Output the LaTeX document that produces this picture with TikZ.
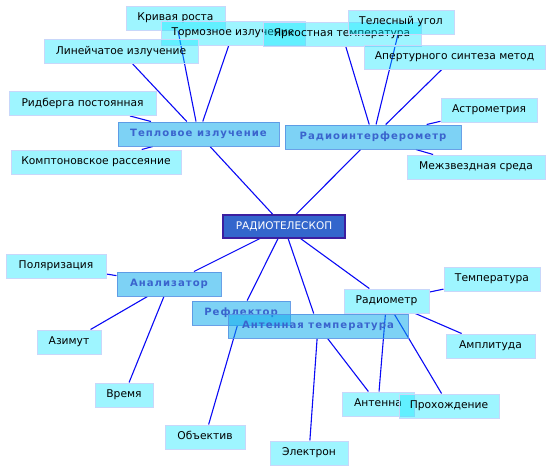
\documentclass[tikz,border=0pt]{standalone}
\usepackage{fontspec}
\setmainfont{DejaVu Sans}
\newfontfamily\catfont[LetterSpace=10]{DejaVu Sans}
\usetikzlibrary{backgrounds}
\definecolor{leaffill}{RGB}{0,230,255}
\definecolor{leafline}{RGB}{200,215,250}
\definecolor{catfill}{RGB}{10,170,236}
\definecolor{catline}{RGB}{90,150,228}
\definecolor{cattext}{RGB}{58,100,205}
\definecolor{topfill}{RGB}{51,102,204}
\definecolor{topline}{RGB}{60,30,160}
\definecolor{edgeblue}{RGB}{10,10,245}

\begin{document}
\begin{tikzpicture}[x=1pt,y=-1pt,
  leaf/.style={draw=leafline,line width=1pt,fill=leaffill,fill opacity=0.38,text opacity=1,
    minimum height=24pt,inner xsep=3pt,text depth=2.5pt,font=\fontsize{10.7}{12}\selectfont},
  cat/.style={draw=catline,line width=1pt,fill=catfill,fill opacity=0.53,draw opacity=0.9,text opacity=1,
    text=cattext,minimum height=24pt,inner xsep=3pt,font=\catfont\bfseries\fontsize{10.1}{12}\selectfont},
  hub/.style={draw=topline,line width=1.2pt,fill=topfill,text=white,
    minimum height=23pt,inner xsep=3pt,font=\fontsize{10.5}{12}\selectfont},
  link/.style={draw=edgeblue,line width=1.1pt}]
  \useasboundingbox (0,0) rectangle (552,472);

  % center
  \node[hub,minimum width=122pt] (tel) at (284,226.5) {РАДИОТЕЛЕСКОП};

  % Тепловое излучение
  \node[leaf,minimum width=99pt] (krivaya) at (175.5,18) {Кривая роста};
  \node[leaf,minimum width=144pt] (tormoz) at (233,33) {Тормозное излучение};
  \node[leaf,minimum width=154pt] (lineich) at (121,51.5) {Линейчатое излучение};
  \node[leaf,minimum width=147pt] (ridberg) at (82.5,103.5) {Ридберга постоянная};
  \node[leaf,minimum width=170pt] (kompton) at (96,162) {Комптоновское рассеяние};
  \node[cat,minimum width=161pt] (teplo) at (198.5,134) {Тепловое излучение};

  % Радиоинтерферометр
  \node[leaf,minimum width=158pt] (yarkost) at (342,34) {Яркостная температура};
  \node[leaf,minimum width=106pt] (telesn) at (401,22) {Телесный угол};
  \node[leaf,minimum width=181pt] (apert) at (454.5,57) {Апертурного синтеза метод};
  \node[leaf,minimum width=96pt] (astrom) at (489,110) {Астрометрия};
  \node[leaf,minimum width=138pt] (mezhzv) at (476,167) {Межзвездная среда};
  \node[cat,minimum width=176pt] (interf) at (373,137) {Радиоинтерферометр};

  % Анализатор
  \node[leaf,minimum width=100pt] (polyar) at (56,266) {Поляризация};
  \node[leaf,minimum width=64pt] (azimut) at (69,342) {Азимут};
  \node[leaf,minimum width=58pt] (vremya) at (124,395) {Время};
  \node[cat,minimum width=104pt] (analiz) at (169,284) {Анализатор};

  % Рефлектор, Антенная температура, Радиометр
  \node[leaf,minimum width=80pt] (obyekt) at (205,437) {Объектив};
  \node[leaf,minimum width=78pt] (elektron) at (309,453) {Электрон};
  \node[leaf,minimum width=85pt] (radiometr) at (386.5,301) {Радиометр};
  \node[leaf,minimum width=96pt] (temper) at (492,279) {Температура};
  \node[leaf,minimum width=89pt] (amplit) at (490.5,346) {Амплитуда};
  \node[leaf,minimum width=72pt] (antenna) at (378,404) {Антенна};
  \node[leaf,minimum width=100pt] (prohozh) at (449,406) {Прохождение};
  \node[cat,minimum width=98pt] (reflektor) at (241,313) {Рефлектор};
  \node[cat,minimum width=180pt] (antT) at (318,326) {Антенная температура};

  \begin{scope}[on background layer]
    \draw[link] (tel) -- (teplo) (tel) -- (interf) (tel) -- (analiz) (tel) -- (reflektor)
      (tel) -- (antT) (tel) -- (radiometr);
    \draw[link] (teplo) -- (krivaya) (teplo) -- (tormoz) (teplo) -- (lineich)
      (teplo) -- (ridberg) (teplo) -- (kompton);
    \draw[link] (interf) -- (yarkost) (interf) -- (telesn) (interf) -- (apert)
      (interf) -- (astrom) (interf) -- (mezhzv);
    \draw[link] (analiz) -- (polyar) (analiz) -- (azimut) (analiz) -- (vremya);
    \draw[link] (reflektor) -- (obyekt);
    \draw[link] (antT) -- (elektron) (antT) -- (antenna) (antT) -- (radiometr);
    \draw[link] (radiometr) -- (temper) (radiometr) -- (amplit) (radiometr) -- (antenna)
      (radiometr) -- (prohozh);
  \end{scope}
\end{tikzpicture}
\end{document}
